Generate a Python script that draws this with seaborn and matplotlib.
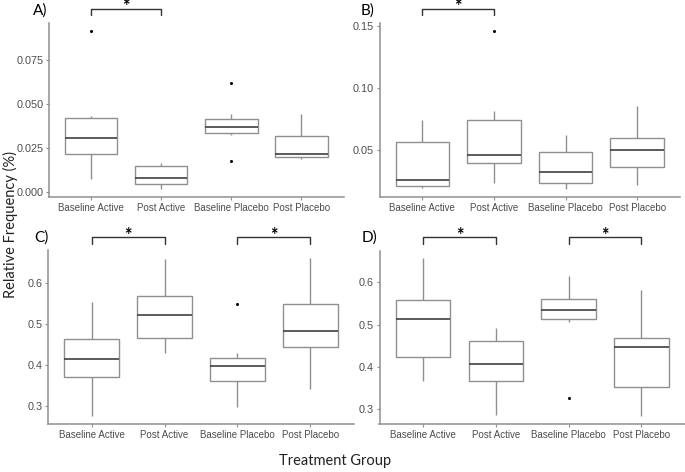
import numpy as np
import pandas as pd
import matplotlib.pyplot as plt
import seaborn as sns

groups = ["Baseline Active", "Post Active", "Baseline Placebo", "Post Placebo"]

# values (9 per group)
a_base_active = [0.0073, 0.0150, 0.0216, 0.0260, 0.0309, 0.0380, 0.0422, 0.0431, 0.0919]
a_post_active = [0.0015, 0.0030, 0.0046, 0.0060, 0.0078, 0.0110, 0.0149, 0.0155, 0.0162]
a_base_placebo = [0.0174, 0.0325, 0.0336, 0.0350, 0.0367, 0.0390, 0.0417, 0.0445, 0.0621]
a_post_placebo = [0.0187, 0.0194, 0.0201, 0.0208, 0.0216, 0.0270, 0.0317, 0.0380, 0.0445]

b_base_active = [0.0194, 0.0200, 0.0213, 0.0240, 0.0264, 0.0420, 0.0568, 0.0650, 0.0748]
b_post_active = [0.0234, 0.0330, 0.0401, 0.0430, 0.0463, 0.0600, 0.0748, 0.0818, 0.1460]
b_base_placebo = [0.0189, 0.0210, 0.0234, 0.0280, 0.0323, 0.0400, 0.0487, 0.0550, 0.0624]
b_post_placebo = [0.0221, 0.0300, 0.0366, 0.0430, 0.0503, 0.0550, 0.0600, 0.0720, 0.0860]

c_base_active = [0.2763, 0.3300, 0.3715, 0.3950, 0.4160, 0.4400, 0.4634, 0.5100, 0.5537]
c_post_active = [0.4308, 0.4500, 0.4659, 0.4950, 0.5234, 0.5450, 0.5690, 0.6100, 0.6585]
c_base_placebo = [0.2990, 0.3300, 0.3610, 0.3800, 0.3976, 0.4100, 0.4185, 0.4293, 0.5495]
c_post_placebo = [0.3415, 0.4000, 0.4454, 0.4650, 0.4837, 0.5200, 0.5488, 0.6000, 0.6610]

d_base_active = [0.3668, 0.3950, 0.4223, 0.4700, 0.5123, 0.5350, 0.5573, 0.6100, 0.6570]
d_post_active = [0.2856, 0.3300, 0.3661, 0.3850, 0.4057, 0.4350, 0.4616, 0.4750, 0.4910]
d_base_placebo = [0.3250, 0.5066, 0.5123, 0.5230, 0.5344, 0.5450, 0.5611, 0.5900, 0.6150]
d_post_placebo = [0.2832, 0.3200, 0.3512, 0.4000, 0.4474, 0.4580, 0.4673, 0.5200, 0.5818]

a_ticks = [0.0, 0.025, 0.05, 0.075]
b_ticks = [0.05, 0.10, 0.15]
cd_ticks = [0.3, 0.4, 0.5, 0.6]

sns.set_style("ticks")
plt.rcParams['font.family'] = ['Liberation Sans', 'DejaVu Sans']

W, H = 685, 472
fig = plt.figure(figsize=(W / 100, H / 100), dpi=100)


def px_axes(x0, y0, x1, y1):
    return fig.add_axes([x0 / W, 1 - y1 / H, (x1 - x0) / W, (y1 - y0) / H])


def draw_panel(ax, cols, ticks, fmt, brackets):
    df = pd.DataFrame({
        "group": np.repeat(groups, [len(c) for c in cols]),
        "value": np.concatenate(cols),
    })
    sns.boxplot(data=df, x="group", y="value", order=groups, ax=ax,
                width=0.75, color="white", linecolor="#8f8f8f", linewidth=1.0,
                showcaps=False,
                flierprops=dict(marker="o", markersize=2.2, markerfacecolor="black",
                                markeredgecolor="black", markeredgewidth=0),
                medianprops=dict(color="#404040", linewidth=1.2))
    lo, hi = df["value"].min(), df["value"].max()
    pad = (hi - lo) * 0.05
    ax.set_ylim(lo - pad, hi + pad)
    ax.set_xlim(-0.6, 3.6)
    ax.set_yticks(ticks)
    ax.set_yticklabels([fmt.format(t) for t in ticks])
    ax.set_xlabel("")
    ax.set_ylabel("")
    sns.despine(ax=ax)
    for s in ["left", "bottom"]:
        ax.spines[s].set_color("#8f8f8f")
        ax.spines[s].set_linewidth(1.1)
    ax.tick_params(axis="both", colors="#8f8f8f", length=2.5, width=0.8,
                   labelcolor="#4d4d4d", pad=1.5)
    ax.tick_params(axis="x", labelsize=7)
    ax.tick_params(axis="y", labelsize=7.8)
    tr = ax.get_xaxis_transform()
    for x0, x1, yl, yt, ys in brackets:
        ax.plot([x0, x0, x1, x1], [yt, yl, yl, yt], color="#333333", lw=1.0,
                transform=tr, clip_on=False)
        ax.text((x0 + x1) / 2, ys, "*", transform=tr, ha="center", va="center",
                fontsize=13, fontweight="bold", color="black", family="Lato")


ax_a = px_axes(49, 23, 343.5, 197)
ax_b = px_axes(379.5, 23, 680, 197)
ax_c = px_axes(48, 250.5, 354, 424)
ax_d = px_axes(379.5, 250.5, 685, 424)

top_br = [(0, 1, 1.079, 1.046, 1.092)]
draw_panel(ax_a, [a_base_active, a_post_active, a_base_placebo, a_post_placebo],
           a_ticks, "{:.3f}", top_br)
draw_panel(ax_b, [b_base_active, b_post_active, b_base_placebo, b_post_placebo],
           b_ticks, "{:.2f}", top_br)
two_br = [(0, 1, 1.076, 1.037, 1.084), (2, 3, 1.076, 1.037, 1.084)]
draw_panel(ax_c, [c_base_active, c_post_active, c_base_placebo, c_post_placebo],
           cd_ticks, "{:.1f}", two_br)
draw_panel(ax_d, [d_base_active, d_post_active, d_base_placebo, d_post_placebo],
           cd_ticks, "{:.1f}", two_br)

for lab, x, y in [("A)", 33, 11), ("B)", 361, 11), ("C)", 34, 238), ("D)", 362, 238)]:
    fig.text(x / W, 1 - y / H, lab, ha="left", va="center", fontsize=11,
             family="Lato", color="black")

fig.text(10 / W, 1 - 225 / H, "Relative Frequency (%)", rotation=90,
         ha="center", va="center", fontsize=10.5, family="Lato", color="#222222")
fig.text(335 / W, 1 - 461 / H, "Treatment Group", ha="center", va="center",
         fontsize=10.5, family="Lato", color="#222222")

fig.savefig("out.png", dpi=100)
